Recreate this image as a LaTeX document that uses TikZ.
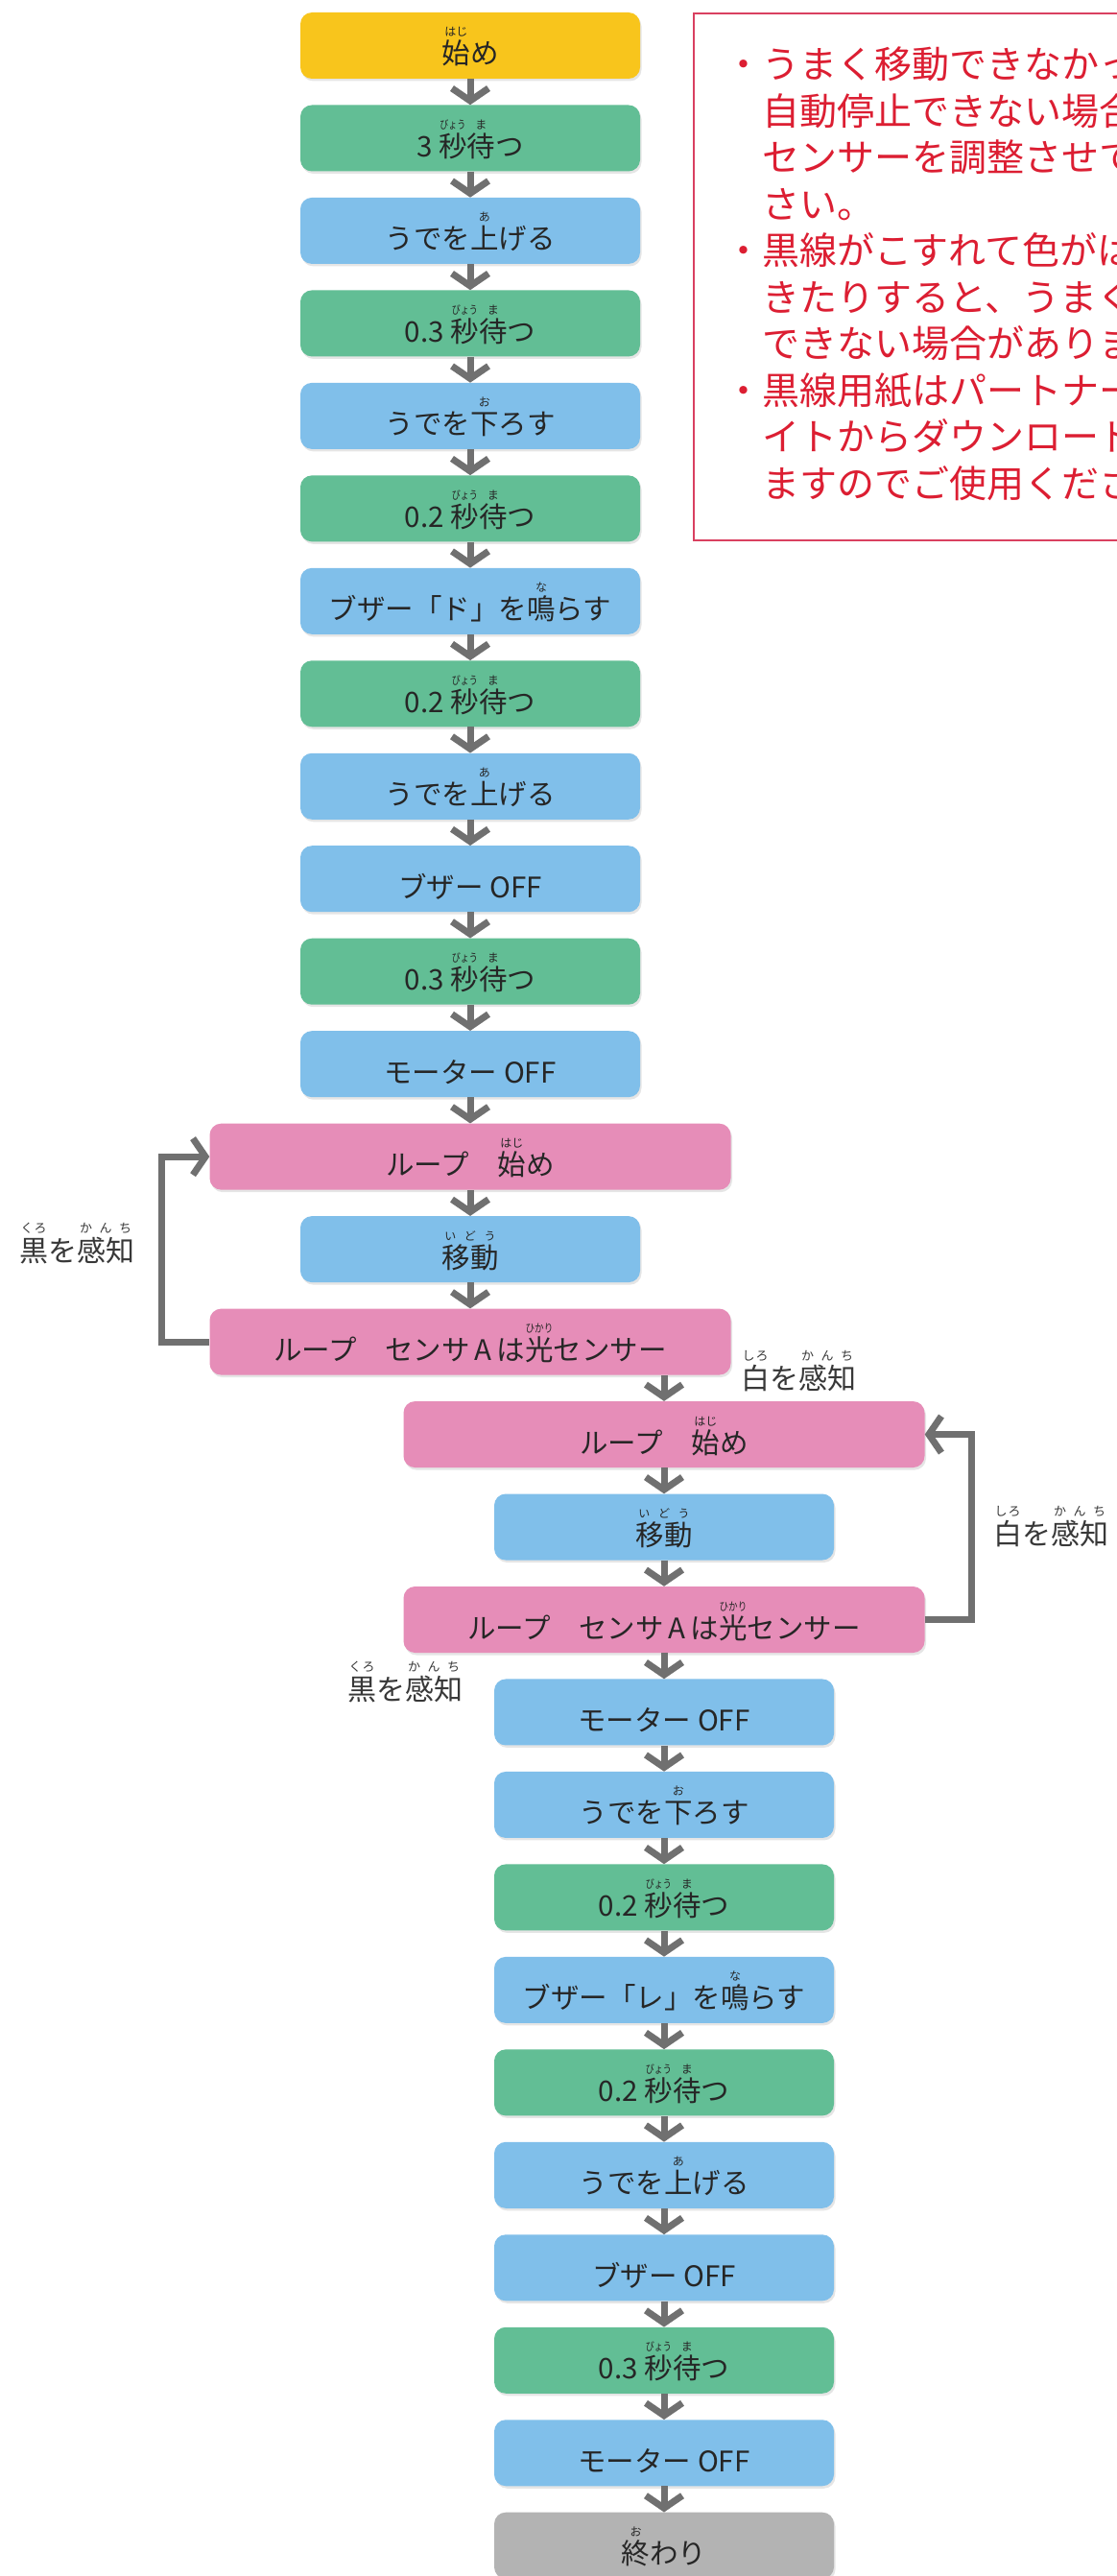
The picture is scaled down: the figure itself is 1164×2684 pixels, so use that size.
\documentclass[tikz,border=0pt]{standalone}
\usepackage{fontspec}
\usepackage{graphicx}
\setmainfont{Noto Sans CJK JP}
\usetikzlibrary{arrows.meta,shadows}
\definecolor{cyel}{HTML}{F8C51C}
\definecolor{cgrn}{HTML}{62BE95}
\definecolor{cblu}{HTML}{80BFEA}
\definecolor{cpnk}{HTML}{E68DB8}
\definecolor{cgry}{HTML}{B3B3B3}
\definecolor{carr}{HTML}{707070}
\definecolor{cred}{HTML}{DC1E32}
\definecolor{cbrd}{HTML}{D94060}
\definecolor{ctxt}{HTML}{262626}
\definecolor{clbl}{HTML}{383838}
\newsavebox\rbbox
\newlength\rbraise
\newcommand\rbfont{}
\newcommand\rb[2]{\sbox\rbbox{#1}\makebox[\wd\rbbox]{\makebox[0pt]{\raisebox{\rbraise}{\rbfont #2}}}\hspace{-\wd\rbbox}\usebox\rbbox}
\newcommand\rbs[2]{\sbox\rbbox{#1}\makebox[\wd\rbbox]{\makebox[0pt]{\raisebox{\rbraise}{\makebox[0.9\wd\rbbox][s]{\rbfont #2}}}}\hspace{-\wd\rbbox}\usebox\rbbox}
\newcommand\boxfont{\fontsize{29.5}{30}\selectfont\setlength\rbraise{29pt}\renewcommand\rbfont{\fontsize{12}{12}\selectfont}}
\newcommand\lblfont{\fontsize{30}{31}\selectfont\setlength\rbraise{30pt}\renewcommand\rbfont{\fontsize{13}{13}\selectfont}}
\newcommand\notefont{\fontsize{39}{48}\selectfont}
\newcommand\byo{\rb{秒}{\scalebox{0.75}[1]{びょう}}\rb{待}{ま}つ}
\tikzset{
 stepbox/.style={rounded corners=12pt, minimum height=69pt, inner sep=0pt, text height=39pt, text depth=0pt, text=ctxt, font=\boxfont, drop shadow={shadow xshift=1.5pt,shadow yshift=-2.5pt,opacity=0.2}},
 nbox/.style={stepbox, minimum width=354pt},
 wbox/.style={stepbox, minimum width=543pt},
 startc/.style={fill=cyel}, waitc/.style={fill=cgrn}, actc/.style={fill=cblu},
 loopc/.style={fill=cpnk}, endc/.style={fill=cgry},
 flow/.style={draw=carr, line width=7pt, line join=miter, -{Straight Barb[length=13pt,width=38pt]}},
 lbl/.style={font=\lblfont, text=clbl, inner sep=0pt, anchor=base west},
 notetxt/.style={font=\notefont, text=cred, inner sep=0pt, anchor=base west},
}
\begin{document}
\begin{tikzpicture}[x=1pt,y=-1pt]
\useasboundingbox (0,0) rectangle (1164,2684);
\clip (0,0) rectangle (1164,2684);
\fill[white] (0,0) rectangle (1164,2684);

% notes box
\node[draw=cbrd, line width=2pt, fill=white, anchor=north west, minimum width=600pt, minimum height=549pt, inner sep=0pt] (notes) at (722,13) {};
\node[notetxt] (t1) at (755,81.8) {・うまく移動できなかったり、};
\node[notetxt] (t2) at (794,130.3) {自動停止できない場合は光};
\node[notetxt] (t3) at (794,178.8) {センサーを調整させてくだ};
\node[notetxt] (t4) at (794,227.3) {さい。};
\node[notetxt] (t5) at (755,275.8) {・黒線がこすれて色がはげて};
\node[notetxt] (t6) at (794,324.3) {きたりすると、うまく移動};
\node[notetxt] (t7) at (794,372.8) {できない場合があります。};
\node[notetxt] (t8) at (755,421.3) {・黒線用紙はパートナーサ};
\node[notetxt] (t9) at (794,469.8) {イトからダウンロードでき};
\node[notetxt] (t10) at (794,518.3) {ますのでご使用ください。};

% column 1
\node[nbox,startc] (n1) at (490,47.5) {\rb{始}{はじ}め};
\node[nbox,waitc] (n2) at (490,143.97) {3 \byo};
\node[nbox,actc] (n3) at (490,240.44) {うでを\rb{上}{あ}げる};
\node[nbox,waitc] (n4) at (490,336.91) {0.3 \byo};
\node[nbox,actc] (n5) at (490,433.38) {うでを\rb{下}{お}ろす};
\node[nbox,waitc] (n6) at (490,529.85) {0.2 \byo};
\node[nbox,actc] (n7) at (490,626.32) {ブザー「ド」を\rb{鳴}{な}らす};
\node[nbox,waitc] (n8) at (490,722.79) {0.2 \byo};
\node[nbox,actc] (n9) at (490,819.26) {うでを\rb{上}{あ}げる};
\node[nbox,actc] (n10) at (490,915.73) {ブザー OFF};
\node[nbox,waitc] (n11) at (490,1012.2) {0.3 \byo};
\node[nbox,actc] (n12) at (490,1108.67) {モーター OFF};
\node[wbox,loopc] (n13) at (490,1205.14) {ループ　\rb{始}{はじ}め};
\node[nbox,actc] (n14) at (490,1301.61) {\rbs{移動}{い\hfil ど\hfil う}};
\node[wbox,loopc] (n15) at (490,1398.08) {ループ　センサ\,A\,は\rb{光}{\scalebox{0.8}[1]{ひかり}}センサー};
% column 2
\node[wbox,loopc] (n16) at (692,1494.55) {ループ　\rb{始}{はじ}め};
\node[nbox,actc] (n17) at (692,1591.02) {\rbs{移動}{い\hfil ど\hfil う}};
\node[wbox,loopc] (n18) at (692,1687.49) {ループ　センサ\,A\,は\rb{光}{\scalebox{0.8}[1]{ひかり}}センサー};
\node[nbox,actc] (n19) at (692,1783.96) {モーター OFF};
\node[nbox,actc] (n20) at (692,1880.43) {うでを\rb{下}{お}ろす};
\node[nbox,waitc] (n21) at (692,1976.9) {0.2 \byo};
\node[nbox,actc] (n22) at (692,2073.37) {ブザー「レ」を\rb{鳴}{な}らす};
\node[nbox,waitc] (n23) at (692,2169.84) {0.2 \byo};
\node[nbox,actc] (n24) at (692,2266.31) {うでを\rb{上}{あ}げる};
\node[nbox,actc] (n25) at (692,2362.78) {ブザー OFF};
\node[nbox,waitc] (n26) at (692,2459.25) {0.3 \byo};
\node[nbox,actc] (n27) at (692,2555.72) {モーター OFF};
\node[nbox,endc] (n28) at (692,2652.19) {\rb{終}{お}わり};

% straight connectors
\foreach \a/\b in {n1/n2,n2/n3,n3/n4,n4/n5,n5/n6,n6/n7,n7/n8,n8/n9,n9/n10,n10/n11,n11/n12,n12/n13,n13/n14,n14/n15,n16/n17,n17/n18,n18/n19,n19/n20,n20/n21,n21/n22,n22/n23,n23/n24,n24/n25,n25/n26,n26/n27,n27/n28}
  \draw[flow] (\a.south) -- (\b.north);
\draw[flow] (n16.north |- n15.south) -- (n16.north);
% loops
\draw[flow] (n15.west) -- ++(-50,0) |- (n13.west);
\draw[flow] (n18.east) -- ++(49,0) |- (n16.east);

% labels
\node[lbl] (k1) at (20,1314) {\rbs{黒}{く\hfil ろ}を\rbs{感知}{か\hfil ん\hfil ち}};
\node[lbl] (w1) at (772,1447) {\rbs{白}{し\hfil ろ}を\rbs{感知}{か\hfil ん\hfil ち}};
\node[lbl] (w2) at (1035,1609) {\rbs{白}{し\hfil ろ}を\rbs{感知}{か\hfil ん\hfil ち}};
\node[lbl] (k2) at (362,1771) {\rbs{黒}{く\hfil ろ}を\rbs{感知}{か\hfil ん\hfil ち}};
\end{tikzpicture}
\end{document}
